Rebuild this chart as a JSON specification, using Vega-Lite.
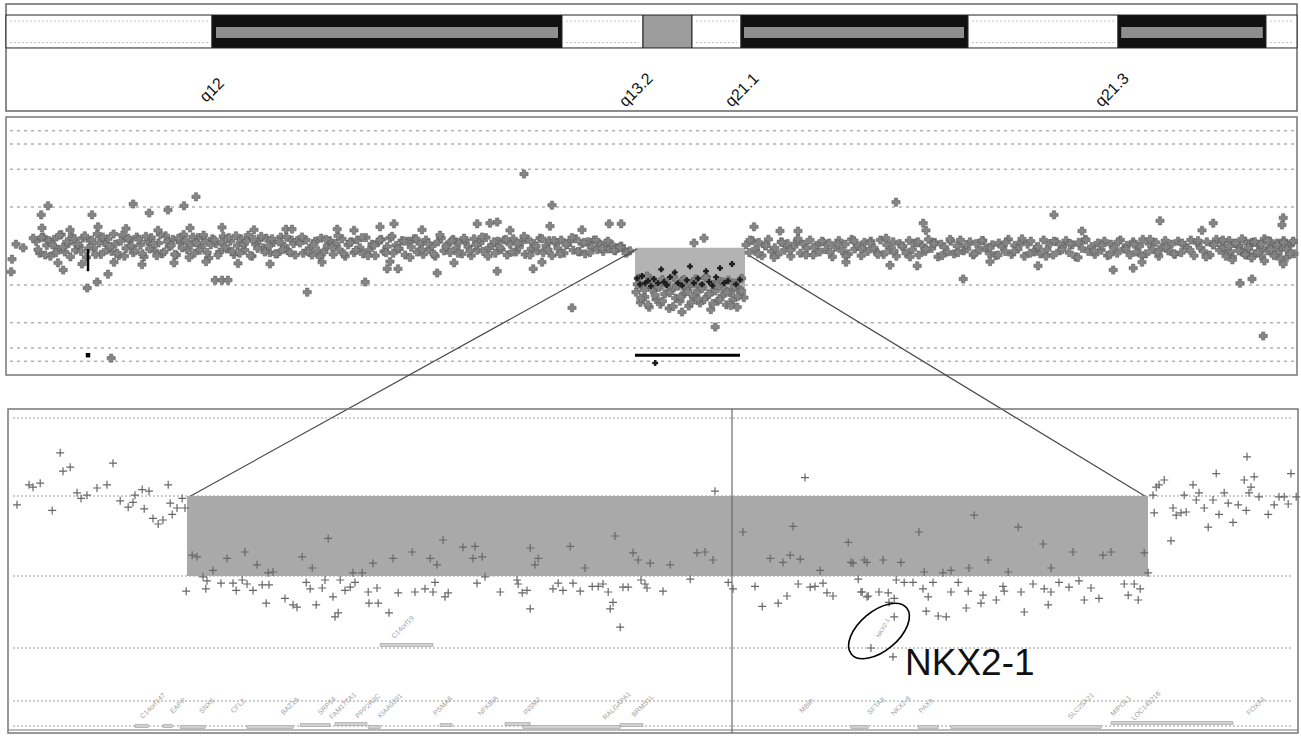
{
"$schema":"https://vega.github.io/schema/vega-lite/v6.json",
"width":1301,"height":740,"padding":0,"autosize":{"type":"none"},"background":"white",
"config":{"view":{"stroke":null},"font":"Liberation Sans"},
"datasets":{
"bands":[{"s":20,"e":25.15,"t":"w"},{"s":25.15,"e":33.9,"t":"b"},{"s":33.9,"e":35.925,"t":"w"},{"s":35.925,"e":37.15,"t":"g"},{"s":37.15,"e":38.375,"t":"w"},{"s":38.375,"e":44.05,"t":"b"},{"s":44.05,"e":47.8,"t":"w"},{"s":47.8,"e":51.5,"t":"b"},{"s":51.5,"e":52.275,"t":"w"}],
"stripes":[{"s":25.25,"e":33.8},{"s":38.45,"e":43.95},{"s":47.88,"e":51.42}],
"whites":[{"s":20.1,"e":25.05},{"s":34.0,"e":35.83},{"s":37.25,"e":38.28},{"s":44.15,"e":47.7},{"s":51.6,"e":52.2}],
"bandlabels":[{"p":25.15,"b":"q12"},{"p":35.75,"b":"q13.2"},{"p":38.4,"b":"q21.1"},{"p":47.65,"b":"q21.3"}],
"ovl":[{"v":1.92},{"v":1.7},{"v":1.28},{"v":0.65},{"v":-0.65},{"v":-1.28},{"v":-1.7},{"v":-1.92}],
"links":[{"p":35.775,"v":-0.05,"p2":24.525,"v2":-4.2},{"p":38.6,"v":-0.167,"p2":48.55,"v2":-4.2}],
"ovd":[{"p":35.78,"v":-0.54},{"p":35.85,"v":-0.64},{"p":35.9,"v":-0.5},{"p":35.98,"v":-0.62},{"p":36.05,"v":-0.58},{"p":36.12,"v":-0.67},{"p":36.2,"v":-0.55},{"p":36.3,"v":-0.62},{"p":36.38,"v":-0.39},{"p":36.45,"v":-0.6},{"p":36.52,"v":-0.65},{"p":36.6,"v":-0.52},{"p":36.72,"v":-0.44},{"p":36.8,"v":-0.62},{"p":36.9,"v":-0.66},{"p":37.02,"v":-0.57},{"p":37.1,"v":-0.34},{"p":37.2,"v":-0.62},{"p":37.3,"v":-0.54},{"p":37.4,"v":-0.64},{"p":37.5,"v":-0.42},{"p":37.58,"v":-0.6},{"p":37.66,"v":-0.66},{"p":37.75,"v":-0.52},{"p":37.85,"v":-0.37},{"p":37.95,"v":-0.62},{"p":38.05,"v":-0.58},{"p":38.15,"v":-0.3},{"p":38.25,"v":-0.64},{"p":38.35,"v":-0.56},{"p":36.23,"v":-1.95}],
"ovp":[
{"p":20.75,"v":0.08},{"p":20.84,"v":-0.12},{"p":20.93,"v":0.15},{"p":21.02,"v":0.01},{"p":21.11,"v":-0.17},{"p":21.2,"v":0.11},{"p":21.29,"v":-0.05},{"p":21.38,"v":0.19},{"p":21.47,"v":-0.1},{"p":21.56,"v":0.04},
{"p":21.65,"v":0.16},{"p":21.74,"v":-0.07},{"p":21.83,"v":0.0},{"p":21.92,"v":0.13},{"p":22.01,"v":-0.19},{"p":22.1,"v":0.09},{"p":22.19,"v":-0.03},{"p":22.28,"v":0.2},{"p":22.37,"v":-0.14},{"p":22.46,"v":0.06},
{"p":22.55,"v":0.12},{"p":22.64,"v":-0.09},{"p":22.73,"v":0.03},{"p":22.82,"v":-0.16},{"p":22.91,"v":0.18},{"p":23.0,"v":-0.04},{"p":23.09,"v":0.1},{"p":23.18,"v":-0.11},{"p":23.27,"v":0.15},{"p":23.36,"v":0.02},
{"p":23.45,"v":-0.18},{"p":23.54,"v":0.07},{"p":23.63,"v":0.14},{"p":23.72,"v":-0.08},{"p":23.81,"v":0.05},{"p":23.9,"v":-0.13},{"p":23.99,"v":0.17},{"p":24.08,"v":-0.01},{"p":24.17,"v":0.11},{"p":24.26,"v":-0.15},
{"p":24.35,"v":0.06},{"p":24.44,"v":0.19},{"p":24.53,"v":-0.06},{"p":24.62,"v":0.02},{"p":24.71,"v":-0.12},{"p":24.8,"v":0.14},{"p":24.89,"v":-0.02},{"p":24.98,"v":0.09},{"p":25.07,"v":-0.2},{"p":25.16,"v":0.12},
{"p":25.25,"v":0.04},{"p":25.34,"v":-0.1},{"p":25.43,"v":0.16},{"p":25.52,"v":-0.05},{"p":25.61,"v":0.08},{"p":25.7,"v":-0.14},{"p":25.79,"v":0.01},{"p":25.88,"v":0.12},{"p":25.97,"v":-0.07},{"p":26.06,"v":0.18},
{"p":26.15,"v":-0.17},{"p":26.24,"v":0.03},{"p":26.33,"v":0.1},{"p":26.42,"v":-0.03},{"p":26.51,"v":0.13},{"p":26.6,"v":-0.11},{"p":26.69,"v":0.06},{"p":26.78,"v":-0.13},{"p":26.87,"v":0.15},{"p":26.96,"v":0.0},
{"p":27.05,"v":-0.08},{"p":27.14,"v":0.1},{"p":27.23,"v":-0.15},
{"p":20.8,"v":-0.06},{"p":20.89,"v":0.14},{"p":20.98,"v":-0.15},{"p":21.07,"v":0.09},{"p":21.16,"v":0.02},{"p":21.25,"v":-0.11},{"p":21.34,"v":0.18},{"p":21.43,"v":-0.02},{"p":21.52,"v":0.07},{"p":21.61,"v":-0.18},
{"p":21.7,"v":0.12},{"p":21.79,"v":0.03},{"p":21.88,"v":-0.09},{"p":21.97,"v":0.17},{"p":22.06,"v":-0.04},{"p":22.15,"v":0.1},{"p":22.24,"v":-0.14},{"p":22.33,"v":0.05},{"p":22.42,"v":0.15},{"p":22.51,"v":-0.07},
{"p":22.6,"v":-0.01},{"p":22.69,"v":0.2},{"p":22.78,"v":-0.12},{"p":22.87,"v":0.08},{"p":22.96,"v":-0.17},{"p":23.05,"v":0.13},{"p":23.14,"v":0.0},{"p":23.23,"v":-0.08},{"p":23.32,"v":0.11},{"p":23.41,"v":-0.13},
{"p":23.5,"v":0.16},{"p":23.59,"v":-0.05},{"p":23.68,"v":0.04},{"p":23.77,"v":-0.16},{"p":23.86,"v":0.19},{"p":23.95,"v":-0.1},{"p":24.04,"v":0.07},{"p":24.13,"v":0.01},{"p":24.22,"v":-0.14},{"p":24.31,"v":0.13},
{"p":24.4,"v":-0.03},{"p":24.49,"v":0.09},{"p":24.58,"v":-0.19},{"p":24.67,"v":0.15},{"p":24.76,"v":0.05},{"p":24.85,"v":-0.07},{"p":24.94,"v":0.18},{"p":25.03,"v":-0.11},{"p":25.12,"v":0.02},{"p":25.21,"v":0.1},
{"p":25.3,"v":-0.15},{"p":25.39,"v":0.06},{"p":25.48,"v":-0.02},{"p":25.57,"v":0.14},{"p":25.66,"v":-0.09},{"p":25.75,"v":0.17},{"p":25.84,"v":-0.12},{"p":25.93,"v":0.03},{"p":26.02,"v":0.08},{"p":26.11,"v":-0.16},
{"p":26.2,"v":0.11},{"p":26.29,"v":-0.04},{"p":26.38,"v":0.16},{"p":26.47,"v":-0.1},{"p":26.56,"v":0.0},{"p":26.65,"v":0.12},{"p":26.74,"v":-0.13},{"p":26.83,"v":0.07},{"p":26.92,"v":-0.06},{"p":27.01,"v":0.15},
{"p":27.1,"v":-0.11},{"p":27.19,"v":0.04},{"p":27.28,"v":0.09},
{"p":27.35,"v":0.05},{"p":27.43,"v":-0.12},{"p":27.5,"v":0.1},{"p":27.58,"v":-0.04},{"p":27.65,"v":-0.15},{"p":27.73,"v":0.08},{"p":27.8,"v":-0.08},{"p":27.88,"v":0.13},{"p":27.95,"v":-0.1},{"p":28.03,"v":0.0},
{"p":28.1,"v":0.09},{"p":28.18,"v":-0.14},{"p":28.25,"v":0.04},{"p":28.33,"v":-0.06},{"p":28.4,"v":0.12},{"p":28.48,"v":-0.17},{"p":28.55,"v":0.02},{"p":28.63,"v":0.07},{"p":28.7,"v":-0.11},{"p":28.78,"v":0.1},
{"p":28.85,"v":-0.03},{"p":28.93,"v":-0.13},{"p":29.0,"v":0.14},{"p":29.08,"v":-0.07},{"p":29.15,"v":0.03},{"p":29.23,"v":-0.16},{"p":29.3,"v":0.06},{"p":29.38,"v":0.11},{"p":29.45,"v":-0.09},{"p":29.53,"v":-0.01},
{"p":29.6,"v":0.13},{"p":29.68,"v":-0.12},{"p":29.75,"v":0.01},{"p":29.83,"v":-0.05},{"p":29.9,"v":0.09},{"p":29.98,"v":-0.15},{"p":30.05,"v":0.08},{"p":30.13,"v":-0.02},{"p":30.2,"v":0.12},{"p":30.28,"v":-0.1},
{"p":30.35,"v":0.04},{"p":30.43,"v":-0.14},{"p":30.5,"v":0.1},{"p":30.58,"v":-0.06},{"p":30.65,"v":0.0},{"p":30.73,"v":-0.17},{"p":30.8,"v":0.07},{"p":30.88,"v":0.13},{"p":30.95,"v":-0.08},{"p":31.03,"v":0.02},
{"p":31.1,"v":-0.11},{"p":31.18,"v":0.11},{"p":31.25,"v":-0.04},{"p":31.33,"v":0.06},{"p":31.4,"v":-0.13},{"p":31.48,"v":0.09},{"p":31.55,"v":-0.01},{"p":31.63,"v":-0.16},{"p":31.7,"v":0.12},{"p":31.78,"v":-0.07},
{"p":31.85,"v":0.05},{"p":31.93,"v":-0.09},{"p":32.0,"v":0.14},{"p":32.08,"v":-0.03},{"p":32.15,"v":0.01},{"p":32.23,"v":-0.12},{"p":32.3,"v":0.08},{"p":32.38,"v":-0.06},{"p":32.45,"v":0.1},{"p":32.53,"v":-0.15},
{"p":32.6,"v":0.03},{"p":32.68,"v":0.12},{"p":32.75,"v":-0.1},{"p":32.83,"v":-0.02},{"p":32.9,"v":0.07},{"p":32.98,"v":-0.14},{"p":33.05,"v":0.11},{"p":33.13,"v":-0.05},{"p":33.2,"v":0.04},{"p":33.28,"v":-0.08},
{"p":33.35,"v":0.13},{"p":33.43,"v":-0.11},{"p":33.5,"v":0.0},{"p":33.58,"v":0.09},{"p":33.65,"v":-0.16},{"p":33.73,"v":0.06},{"p":33.8,"v":-0.04},{"p":33.88,"v":0.1},{"p":33.95,"v":-0.12},{"p":34.03,"v":0.02},
{"p":34.1,"v":0.08},{"p":34.18,"v":-0.07},{"p":34.25,"v":0.12},{"p":34.33,"v":-0.1},{"p":34.4,"v":0.04},{"p":34.48,"v":-0.13},{"p":34.55,"v":0.07},{"p":34.63,"v":-0.02},{"p":34.7,"v":0.1},{"p":34.78,"v":-0.06},
{"p":34.85,"v":0.03},{"p":34.93,"v":-0.09},{"p":35.0,"v":0.05},{"p":35.08,"v":-0.05},{"p":35.15,"v":0.02},{"p":35.23,"v":-0.08},{"p":35.3,"v":-0.03},{"p":35.38,"v":0.0},{"p":35.45,"v":-0.06},{"p":35.53,"v":-0.1},
{"p":35.6,"v":-0.08},
{"p":27.4,"v":0.15},{"p":27.55,"v":-0.09},{"p":27.7,"v":0.03},{"p":27.85,"v":-0.18},{"p":28.0,"v":0.11},{"p":28.15,"v":-0.02},{"p":28.3,"v":0.17},{"p":28.45,"v":-0.13},{"p":28.6,"v":0.06},{"p":28.75,"v":-0.07},
{"p":28.9,"v":0.14},{"p":29.05,"v":-0.16},{"p":29.2,"v":0.01},{"p":29.35,"v":0.1},{"p":29.5,"v":-0.11},{"p":29.65,"v":0.16},{"p":29.8,"v":-0.04},{"p":29.95,"v":0.08},{"p":30.1,"v":-0.19},{"p":30.25,"v":0.12},
{"p":30.4,"v":-0.06},{"p":30.55,"v":0.04},{"p":30.7,"v":-0.14},{"p":30.85,"v":0.18},{"p":31.0,"v":-0.01},{"p":31.15,"v":0.09},{"p":31.3,"v":-0.12},{"p":31.45,"v":0.13},{"p":31.6,"v":-0.08},{"p":31.75,"v":0.02},
{"p":31.9,"v":0.15},{"p":32.05,"v":-0.17},{"p":32.2,"v":0.07},{"p":32.35,"v":-0.03},{"p":32.5,"v":0.11},{"p":32.65,"v":-0.1},{"p":32.8,"v":0.05},{"p":32.95,"v":0.16},{"p":33.1,"v":-0.15},{"p":33.25,"v":0.0},
{"p":33.4,"v":0.12},{"p":33.55,"v":-0.06},{"p":33.7,"v":0.09},{"p":33.85,"v":-0.13},{"p":34.0,"v":0.03},{"p":34.15,"v":0.14},{"p":34.3,"v":-0.09},{"p":34.45,"v":0.06},{"p":34.6,"v":-0.11},{"p":34.75,"v":0.1},
{"p":34.9,"v":-0.04},{"p":35.05,"v":0.08},{"p":35.2,"v":-0.07},{"p":35.35,"v":-0.02},{"p":35.5,"v":-0.12},
{"p":38.5,"v":0.02},{"p":38.58,"v":-0.11},{"p":38.66,"v":0.09},{"p":38.74,"v":-0.05},{"p":38.82,"v":0.06},{"p":38.9,"v":-0.16},{"p":38.98,"v":0.0},{"p":39.06,"v":0.11},{"p":39.14,"v":-0.09},{"p":39.22,"v":-0.03},
{"p":39.3,"v":-0.14},{"p":39.38,"v":0.07},{"p":39.46,"v":-0.07},{"p":39.54,"v":0.04},{"p":39.62,"v":-0.17},{"p":39.7,"v":-0.01},{"p":39.78,"v":0.08},{"p":39.86,"v":-0.12},{"p":39.94,"v":0.03},{"p":40.02,"v":-0.04},
{"p":40.1,"v":0.1},{"p":40.18,"v":-0.15},{"p":40.26,"v":0.01},{"p":40.34,"v":-0.1},{"p":40.42,"v":0.07},{"p":40.5,"v":-0.06},{"p":40.58,"v":0.05},{"p":40.66,"v":-0.18},{"p":40.74,"v":-0.02},{"p":40.82,"v":0.09},
{"p":40.9,"v":-0.08},{"p":40.98,"v":0.03},{"p":41.06,"v":-0.13},{"p":41.14,"v":0.11},{"p":41.22,"v":-0.05},{"p":41.3,"v":0.0},{"p":41.38,"v":-0.16},{"p":41.46,"v":0.06},{"p":41.54,"v":-0.09},{"p":41.62,"v":0.08},
{"p":41.7,"v":-0.03},{"p":41.78,"v":-0.11},{"p":41.86,"v":0.1},{"p":41.94,"v":-0.14},{"p":42.02,"v":0.02},{"p":42.1,"v":-0.07},{"p":42.18,"v":0.07},{"p":42.26,"v":-0.17},{"p":42.34,"v":0.04},{"p":42.42,"v":-0.01},
{"p":42.5,"v":-0.12},{"p":42.58,"v":0.09},{"p":42.66,"v":-0.06},{"p":42.74,"v":0.05},{"p":42.82,"v":-0.15},{"p":42.9,"v":0.01},{"p":42.98,"v":-0.09},{"p":43.06,"v":0.11},{"p":43.14,"v":-0.04},{"p":43.22,"v":0.06},
{"p":43.3,"v":-0.18},{"p":43.38,"v":0.03},{"p":43.46,"v":-0.02},{"p":43.54,"v":-0.1},{"p":43.62,"v":0.08},{"p":43.7,"v":-0.13},{"p":43.78,"v":0.0},{"p":43.86,"v":0.1},{"p":43.94,"v":-0.08},{"p":44.02,"v":-0.05},
{"p":44.1,"v":0.07},{"p":44.18,"v":-0.15},{"p":44.26,"v":0.04},{"p":44.34,"v":-0.07},{"p":44.42,"v":0.09},{"p":44.5,"v":-0.03},{"p":44.58,"v":-0.12},{"p":44.66,"v":0.02},{"p":44.74,"v":-0.16},{"p":44.82,"v":0.05},
{"p":44.9,"v":-0.01},{"p":44.98,"v":-0.09},{"p":45.06,"v":0.11},{"p":45.14,"v":-0.14},{"p":45.22,"v":0.01},{"p":45.3,"v":-0.05},{"p":45.38,"v":0.06},{"p":45.46,"v":-0.17},{"p":45.54,"v":0.03},{"p":45.62,"v":0.08},
{"p":45.7,"v":-0.1},{"p":45.78,"v":-0.02},{"p":45.86,"v":-0.13},{"p":45.94,"v":0.1},{"p":46.02,"v":-0.06},{"p":46.1,"v":0.04},{"p":46.18,"v":-0.15},{"p":46.26,"v":0.07},{"p":46.34,"v":-0.08},{"p":46.42,"v":0.0},
{"p":46.5,"v":0.09},{"p":46.58,"v":-0.11},{"p":46.66,"v":0.02},{"p":46.74,"v":-0.18},{"p":46.82,"v":0.06},{"p":46.9,"v":-0.04},{"p":46.98,"v":0.11},{"p":47.06,"v":-0.09},{"p":47.14,"v":-0.01},{"p":47.22,"v":-0.14},
{"p":47.3,"v":0.05},{"p":47.38,"v":-0.07},{"p":47.46,"v":0.08},{"p":47.54,"v":-0.16},{"p":47.62,"v":0.03},{"p":47.7,"v":-0.03},{"p":47.78,"v":-0.12},{"p":47.86,"v":0.1},{"p":47.94,"v":-0.05},{"p":48.02,"v":0.01},
{"p":48.1,"v":-0.15},{"p":48.18,"v":0.07},{"p":48.26,"v":-0.1},{"p":48.34,"v":0.0},{"p":48.42,"v":0.11},{"p":48.5,"v":-0.13},{"p":48.58,"v":0.04},{"p":48.66,"v":-0.06},{"p":48.74,"v":0.06},{"p":48.82,"v":-0.17},
{"p":48.9,"v":-0.02},{"p":48.98,"v":0.09},{"p":49.06,"v":-0.08},{"p":49.14,"v":0.03},{"p":49.22,"v":-0.14},{"p":49.3,"v":0.08},{"p":49.38,"v":-0.11},{"p":49.46,"v":0.01},{"p":49.54,"v":-0.04},{"p":49.62,"v":0.1},
{"p":49.7,"v":-0.16},{"p":49.78,"v":0.05},{"p":49.86,"v":-0.03},{"p":49.94,"v":-0.09},{"p":50.02,"v":0.07},{"p":50.1,"v":-0.15},{"p":50.18,"v":0.02},{"p":50.26,"v":0.11},{"p":50.34,"v":-0.07},{"p":50.42,"v":-0.01},
{"p":50.5,"v":-0.12},{"p":50.58,"v":0.09},{"p":50.66,"v":-0.18},{"p":50.74,"v":0.04},{"p":50.82,"v":0.0},{"p":50.9,"v":-0.1},{"p":50.98,"v":0.08},{"p":51.06,"v":-0.05},{"p":51.14,"v":0.06},{"p":51.22,"v":-0.13},
{"p":51.3,"v":0.03},{"p":51.38,"v":-0.16},{"p":51.46,"v":0.12},{"p":51.54,"v":-0.08},{"p":51.62,"v":-0.02},{"p":51.7,"v":-0.14},{"p":51.78,"v":0.05},{"p":51.86,"v":-0.06},{"p":51.94,"v":0.09},{"p":52.02,"v":-0.19},
{"p":52.1,"v":0.01},{"p":52.18,"v":0.07},
{"p":38.6,"v":0.1},{"p":38.8,"v":-0.13},{"p":39.0,"v":0.01},{"p":39.2,"v":-0.19},{"p":39.4,"v":0.06},{"p":39.6,"v":-0.07},{"p":39.8,"v":0.12},{"p":40.0,"v":-0.15},{"p":40.2,"v":-0.02},{"p":40.4,"v":0.08},
{"p":40.6,"v":-0.1},{"p":40.8,"v":0.03},{"p":41.0,"v":-0.17},{"p":41.2,"v":0.09},{"p":41.4,"v":-0.04},{"p":41.6,"v":0.05},{"p":41.8,"v":-0.14},{"p":42.0,"v":0.13},{"p":42.2,"v":-0.08},{"p":42.4,"v":0.0},
{"p":42.6,"v":-0.18},{"p":42.8,"v":0.07},{"p":43.0,"v":-0.05},{"p":43.2,"v":0.04},{"p":43.4,"v":-0.16},{"p":43.6,"v":0.11},{"p":43.8,"v":-0.11},{"p":44.0,"v":0.02},{"p":44.2,"v":-0.13},{"p":44.4,"v":0.09},
{"p":44.6,"v":-0.03},{"p":44.8,"v":-0.15},{"p":45.0,"v":0.06},{"p":45.2,"v":-0.09},{"p":45.4,"v":0.12},{"p":45.6,"v":-0.12},{"p":45.8,"v":-0.01},{"p":46.0,"v":-0.17},{"p":46.2,"v":0.08},{"p":46.4,"v":-0.06},
{"p":46.6,"v":0.04},{"p":46.8,"v":-0.19},{"p":47.0,"v":0.1},{"p":47.2,"v":-0.08},{"p":47.4,"v":0.01},{"p":47.6,"v":-0.14},{"p":47.8,"v":0.07},{"p":48.0,"v":-0.05},{"p":48.2,"v":0.03},{"p":48.4,"v":-0.16},
{"p":48.6,"v":0.11},{"p":48.8,"v":-0.1},{"p":49.0,"v":-0.02},{"p":49.2,"v":-0.13},{"p":49.4,"v":0.05},{"p":49.6,"v":-0.07},{"p":49.8,"v":0.09},{"p":50.0,"v":-0.18},{"p":50.2,"v":0.02},{"p":50.4,"v":0.07},
{"p":50.6,"v":-0.09},{"p":50.8,"v":0.0},{"p":51.0,"v":-0.15},{"p":51.2,"v":0.06},{"p":51.4,"v":-0.04},{"p":51.6,"v":0.08},{"p":51.8,"v":-0.11},{"p":52.0,"v":0.03},{"p":52.2,"v":-0.13},
{"p":50.42,"v":0.1},{"p":50.5,"v":-0.17},{"p":50.58,"v":0.0},{"p":50.66,"v":-0.23},{"p":50.74,"v":0.05},{"p":50.82,"v":-0.08},{"p":50.9,"v":0.12},{"p":50.98,"v":-0.14},{"p":51.06,"v":-0.03},{"p":51.14,"v":-0.2},
{"p":51.22,"v":0.07},{"p":51.3,"v":-0.11},{"p":51.38,"v":0.03},{"p":51.46,"v":-0.25},{"p":51.54,"v":0.09},{"p":51.62,"v":-0.06},{"p":51.7,"v":-0.16},{"p":51.78,"v":0.02},{"p":51.86,"v":-0.21},{"p":51.94,"v":0.06},
{"p":52.02,"v":-0.05},{"p":52.1,"v":-0.13},{"p":52.18,"v":0.08},
{"p":20.9,"v":0.3},{"p":21.3,"v":-0.28},{"p":21.6,"v":0.27},{"p":21.9,"v":-0.3},{"p":22.3,"v":0.32},{"p":22.7,"v":-0.27},{"p":23.0,"v":0.29},{"p":23.4,"v":-0.31},{"p":23.8,"v":0.26},{"p":24.2,"v":-0.28},
{"p":24.6,"v":0.3},{"p":25.0,"v":-0.26},{"p":25.4,"v":0.31},{"p":25.8,"v":-0.29},{"p":26.2,"v":0.27},{"p":26.6,"v":-0.3},{"p":27.0,"v":0.28},{"p":27.9,"v":-0.27},{"p":28.7,"v":0.26},{"p":29.6,"v":-0.26},
{"p":30.4,"v":0.27},{"p":31.2,"v":-0.28},{"p":32.6,"v":0.26},{"p":33.4,"v":-0.27},{"p":34.4,"v":0.27},{"p":39.8,"v":0.25},{"p":41.0,"v":-0.27},{"p":43.0,"v":0.26},{"p":44.6,"v":-0.26},{"p":46.9,"v":0.25},
{"p":48.4,"v":-0.27},{"p":49.9,"v":0.26},
{"p":35.75,"v":-0.77},{"p":35.81,"v":-0.54},{"p":35.86,"v":-0.94},{"p":35.92,"v":-0.66},{"p":35.97,"v":-0.85},{"p":36.03,"v":-0.5},{"p":36.08,"v":-1.02},{"p":36.14,"v":-0.72},{"p":36.19,"v":-0.6},{"p":36.25,"v":-0.89},
{"p":36.3,"v":-0.68},{"p":36.36,"v":-0.97},{"p":36.41,"v":-0.56},{"p":36.47,"v":-0.8},{"p":36.52,"v":-0.63},{"p":36.58,"v":-1.04},{"p":36.63,"v":-0.74},{"p":36.69,"v":-0.52},{"p":36.74,"v":-0.87},{"p":36.8,"v":-0.65},
{"p":36.85,"v":-0.92},{"p":36.91,"v":-0.58},{"p":36.96,"v":-0.79},{"p":37.02,"v":-0.7},{"p":37.07,"v":-1.0},{"p":37.13,"v":-0.62},{"p":37.18,"v":-0.84},{"p":37.24,"v":-0.55},{"p":37.29,"v":-0.76},{"p":37.35,"v":-0.95},
{"p":37.4,"v":-0.67},{"p":37.46,"v":-0.89},{"p":37.51,"v":-0.52},{"p":37.57,"v":-0.81},{"p":37.62,"v":-1.06},{"p":37.68,"v":-0.64},{"p":37.73,"v":-0.75},{"p":37.79,"v":-0.92},{"p":37.84,"v":-0.59},{"p":37.9,"v":-0.83},
{"p":37.95,"v":-0.71},{"p":38.01,"v":-0.98},{"p":38.06,"v":-0.57},{"p":38.12,"v":-0.78},{"p":38.17,"v":-0.9},{"p":38.23,"v":-0.62},{"p":38.28,"v":-1.02},{"p":38.34,"v":-0.73},{"p":38.39,"v":-0.54},{"p":38.45,"v":-0.86},
{"p":35.78,"v":-0.64},{"p":35.87,"v":-0.87},{"p":35.96,"v":-0.73},{"p":36.05,"v":-0.98},{"p":36.14,"v":-0.58},{"p":36.23,"v":-0.82},{"p":36.32,"v":-0.69},{"p":36.41,"v":-0.92},{"p":36.5,"v":-0.61},{"p":36.59,"v":-0.78},
{"p":36.68,"v":-1.01},{"p":36.77,"v":-0.66},{"p":36.86,"v":-0.85},{"p":36.95,"v":-0.56},{"p":37.04,"v":-0.76},{"p":37.13,"v":-0.94},{"p":37.22,"v":-0.62},{"p":37.31,"v":-0.88},{"p":37.4,"v":-0.71},{"p":37.49,"v":-0.53},
{"p":37.58,"v":-0.8},{"p":37.67,"v":-0.96},{"p":37.76,"v":-0.65},{"p":37.85,"v":-0.89},{"p":37.94,"v":-0.6},{"p":38.03,"v":-0.77},{"p":38.12,"v":-0.99},{"p":38.21,"v":-0.68},{"p":38.3,"v":-0.84},{"p":38.39,"v":-0.75},
{"p":20.15,"v":-0.22},{"p":20.13,"v":-0.43},{"p":20.25,"v":0.03},{"p":20.43,"v":-0.03},{"p":20.68,"v":0.13},
{"p":21.05,"v":0.67},{"p":20.88,"v":0.52},{"p":23.18,"v":0.7},{"p":24.75,"v":0.82},{"p":24.45,"v":0.67},{"p":23.58,"v":0.55},{"p":24.05,"v":0.6},{"p":22.15,"v":0.52},
{"p":21.43,"v":-0.4},{"p":22.55,"v":-0.47},{"p":22.28,"v":-0.6},{"p":22.03,"v":-0.7},{"p":27.53,"v":-0.77},{"p":28.98,"v":-0.6},{"p":25.23,"v":-0.57},{"p":25.4,"v":-0.57},{"p":25.55,"v":-0.57},{"p":29.53,"v":-0.38},{"p":29.8,"v":-0.38},{"p":30.78,"v":-0.45},{"p":22.63,"v":-1.87},
{"p":29.7,"v":0.37},{"p":29.35,"v":0.32},{"p":28.28,"v":0.28},{"p":27.15,"v":0.28},{"p":32.95,"v":1.2},{"p":33.65,"v":0.68},{"p":32.28,"v":-0.42},{"p":33.18,"v":-0.38},{"p":34.15,"v":-1.03},{"p":31.78,"v":0.37},{"p":32.1,"v":0.38},{"p":32.28,"v":0.4},{"p":33.6,"v":0.33},{"p":35.08,"v":0.37},{"p":35.38,"v":0.37},
{"p":37.45,"v":0.13},{"p":37.2,"v":0.05},{"p":36.9,"v":-1.1},{"p":37.73,"v":-1.35},{"p":42.25,"v":0.73},{"p":46.2,"v":0.52},{"p":42.93,"v":0.38},{"p":48.85,"v":0.42},{"p":50.18,"v":0.38},{"p":51.93,"v":0.47},{"p":51.9,"v":0.35},
{"p":43.93,"v":-0.55},{"p":50.85,"v":-0.62},{"p":51.15,"v":-0.55},{"p":51.43,"v":-1.5},{"p":45.8,"v":-0.33},{"p":47.68,"v":-0.4},{"p":48.18,"v":-0.37},{"p":51.93,"v":-0.3},{"p":42.1,"v":-0.32},{"p":42.78,"v":-0.33},{"p":38.7,"v":0.32},{"p":39.35,"v":0.25}
],
"zl":[{"v":0.975},{"v":0},{"v":-1},{"v":-1.9},{"v":-2.5625},{"v":-2.875}],
"genes":[{"p":35.595,"p2":35.628,"v1":-2.856,"v2":-2.894},{"p":35.665,"p2":35.688,"v1":-2.856,"v2":-2.894},{"p":35.708,"p2":35.77,"v1":-2.869,"v2":-2.906},{"p":35.875,"p2":35.99,"v1":-2.869,"v2":-2.906},{"p":36.008,"p2":36.083,"v1":-2.844,"v2":-2.881},{"p":36.095,"p2":36.175,"v1":-2.831,"v2":-2.869},{"p":36.178,"p2":36.208,"v1":-2.869,"v2":-2.906},{"p":36.358,"p2":36.388,"v1":-2.844,"v2":-2.881},{"p":36.52,"p2":36.583,"v1":-2.831,"v2":-2.869},{"p":36.565,"p2":36.808,"v1":-2.869,"v2":-2.906},{"p":36.808,"p2":36.865,"v1":-2.844,"v2":-2.881},{"p":37.385,"p2":37.428,"v1":-2.869,"v2":-2.906},{"p":37.553,"p2":37.603,"v1":-2.869,"v2":-2.906},{"p":37.635,"p2":38.01,"v1":-2.869,"v2":-2.906},{"p":38.035,"p2":38.34,"v1":-2.819,"v2":-2.856},{"p":36.208,"p2":36.34,"v1":-1.844,"v2":-1.881}],
"glab":[{"p":35.64,"g":"C14orf147"},{"p":35.703,"g":"EAPP"},{"p":35.775,"g":"SNX6"},{"p":35.853,"g":"CFL2"},{"p":35.983,"g":"BAZ1A"},{"p":36.075,"g":"SRP54"},{"p":36.115,"g":"FAM177A1"},{"p":36.178,"g":"PPP2R3C"},{"p":36.233,"g":"KIAA0391"},{"p":36.365,"g":"PSMA6"},{"p":36.478,"g":"NFKBIA"},{"p":36.588,"g":"INSM2"},{"p":36.8,"g":"RALGAPA1"},{"p":36.865,"g":"BRMS1L"},{"p":37.275,"g":"MBIP"},{"p":37.448,"g":"SFTA3"},{"p":37.51,"g":"NKX2-8"},{"p":37.573,"g":"PAX9"},{"p":37.96,"g":"SLC25A21"},{"p":38.06,"g":"MIPOL1"},{"p":38.123,"g":"LOC145216"},{"p":38.398,"g":"FOXA1"}],
"zp":[
{"p":35.3,"v":-0.11},{"p":35.33,"v":0.14},{"p":35.34,"v":0.11},{"p":35.358,"v":0.16},{"p":35.388,"v":-0.18},{"p":35.408,"v":0.54},{"p":35.415,"v":0.31},{"p":35.433,"v":0.36},{"p":35.45,"v":0.04},{"p":35.46,"v":-0.03},{"p":35.475,"v":0.01},{"p":35.5,"v":0.1},{"p":35.525,"v":0.14},{"p":35.54,"v":0.41},{"p":35.558,"v":-0.06},{"p":35.578,"v":-0.14},{"p":35.59,"v":-0.08},{"p":35.595,"v":0.01},{"p":35.613,"v":0.08},{"p":35.618,"v":-0.16},{"p":35.63,"v":0.06},{"p":35.64,"v":-0.28},{"p":35.653,"v":-0.35},{"p":35.665,"v":-0.3},{"p":35.678,"v":0.14},{"p":35.683,"v":-0.09},{"p":35.688,"v":-0.23},{"p":35.7,"v":-0.15},{"p":35.713,"v":-0.03},{"p":35.72,"v":-0.15},
{"p":35.738,"v":-0.74},{"p":35.75,"v":-0.76},{"p":35.79,"v":-0.93},{"p":35.825,"v":-0.78},{"p":35.87,"v":-0.7},{"p":35.9,"v":-0.86},{"p":35.928,"v":-0.96},{"p":35.94,"v":-0.95},{"p":36.013,"v":-0.76},{"p":36.038,"v":-0.9},{"p":36.078,"v":-0.53},{"p":36.14,"v":-0.96},{"p":36.163,"v":-0.96},{"p":36.19,"v":-0.84},{"p":36.24,"v":-0.78},{"p":36.288,"v":-0.7},{"p":36.333,"v":-0.78},{"p":36.365,"v":-0.55},
{"p":35.723,"v":-1.19},{"p":35.765,"v":-1.01},{"p":35.775,"v":-1.06},{"p":35.772,"v":-1.16},{"p":35.81,"v":-1.09},{"p":35.84,"v":-1.09},{"p":35.848,"v":-1.18},{"p":35.863,"v":-1.05},{"p":35.875,"v":-1.1},{"p":35.89,"v":-1.18},{"p":35.913,"v":-1.11},{"p":35.923,"v":-1.34},{"p":35.93,"v":-1.11},{"p":35.97,"v":-1.28},{"p":35.99,"v":-1.36},{"p":36.0,"v":-1.39},{"p":36.023,"v":-1.08},{"p":36.033,"v":-1.16},{"p":36.048,"v":-1.36},{"p":36.063,"v":-1.15},{"p":36.07,"v":-1.05},{"p":36.09,"v":-1.26},{"p":36.095,"v":-1.51},{"p":36.103,"v":-1.46},{"p":36.108,"v":-1.05},{"p":36.12,"v":-1.18},{"p":36.133,"v":-1.14},{"p":36.145,"v":-1.08},{"p":36.178,"v":-1.2},{"p":36.18,"v":-1.34},{"p":36.2,"v":-1.15},{"p":36.203,"v":-1.34},{"p":36.23,"v":-1.46},{"p":36.253,"v":-1.21},{"p":36.295,"v":-1.2},{"p":36.32,"v":-1.16},{"p":36.34,"v":-1.2},{"p":36.345,"v":-1.08},{"p":36.37,"v":-1.26},{"p":36.378,"v":-1.21},
{"p":36.415,"v":-0.64},{"p":36.445,"v":-0.63},{"p":36.44,"v":-0.78},{"p":36.463,"v":-0.76},{"p":36.35,"v":-0.86},{"p":36.583,"v":-0.65},{"p":36.595,"v":-0.86},{"p":36.603,"v":-0.78},{"p":36.683,"v":-0.63},{"p":36.72,"v":-0.9},{"p":36.795,"v":-0.5},{"p":36.84,"v":-0.71},{"p":36.853,"v":-0.8},{"p":36.883,"v":-0.84},{"p":36.933,"v":-0.86},{"p":37.0,"v":-0.71},{"p":37.02,"v":-0.7},{"p":37.045,"v":0.06},{"p":37.04,"v":-0.8},{"p":37.115,"v":-0.45},{"p":37.183,"v":-0.78},{"p":37.215,"v":-0.83},{"p":37.24,"v":-0.38},{"p":37.233,"v":-0.74},{"p":37.258,"v":-0.79},{"p":37.27,"v":0.23},{"p":37.378,"v":-0.58},{"p":37.39,"v":-0.84},{"p":37.425,"v":-0.83},{"p":37.308,"v":-0.93},
{"p":36.45,"v":-1.09},{"p":36.47,"v":-1.01},{"p":36.508,"v":-1.2},{"p":36.55,"v":-1.05},{"p":36.553,"v":-1.1},{"p":36.563,"v":-1.21},{"p":36.575,"v":-1.18},{"p":36.583,"v":-1.41},{"p":36.64,"v":-1.16},{"p":36.653,"v":-1.09},{"p":36.665,"v":-1.18},{"p":36.69,"v":-1.09},{"p":36.708,"v":-1.19},{"p":36.738,"v":-1.13},{"p":36.753,"v":-1.13},{"p":36.765,"v":-1.1},{"p":36.778,"v":-1.2},{"p":36.79,"v":-1.33},{"p":36.783,"v":-1.41},{"p":36.808,"v":-1.64},{"p":36.815,"v":-1.14},{"p":36.828,"v":-1.14},{"p":36.86,"v":-1.05},{"p":36.87,"v":-1.1},{"p":36.875,"v":-1.15},{"p":36.915,"v":-1.19},{"p":36.983,"v":-1.04},{"p":37.078,"v":-1.08},{"p":37.09,"v":-1.16},{"p":37.145,"v":-1.13},{"p":37.163,"v":-1.38},{"p":37.203,"v":-1.34},{"p":37.225,"v":-1.25},{"p":37.253,"v":-1.1},{"p":37.283,"v":-1.14},{"p":37.295,"v":-1.13},{"p":37.315,"v":-1.09},{"p":37.325,"v":-1.21},{"p":37.34,"v":-1.25},{"p":37.403,"v":-1.04},{"p":37.413,"v":-1.2},{"p":37.425,"v":-1.26},
{"p":37.385,"v":-0.83},{"p":37.418,"v":-0.8},{"p":37.465,"v":-0.8},{"p":37.51,"v":-0.83},{"p":37.555,"v":-0.45},{"p":37.568,"v":-0.95},{"p":37.615,"v":-0.96},{"p":37.635,"v":-0.93},{"p":37.68,"v":-0.9},{"p":37.693,"v":-0.24},{"p":37.728,"v":-0.8},{"p":37.778,"v":-0.95},{"p":37.803,"v":-0.39},{"p":37.865,"v":-0.6},{"p":37.885,"v":-0.9},{"p":37.94,"v":-0.7},{"p":38.015,"v":-0.74},{"p":38.035,"v":-0.7},{"p":38.118,"v":-0.71},{"p":38.128,"v":-0.96},
{"p":37.41,"v":-1.2},{"p":37.428,"v":-1.25},{"p":37.455,"v":-1.2},{"p":37.478,"v":-1.21},{"p":37.493,"v":-1.28},{"p":37.498,"v":-1.05},{"p":37.518,"v":-1.08},{"p":37.54,"v":-1.08},{"p":37.565,"v":-1.16},{"p":37.578,"v":-1.26},{"p":37.573,"v":-1.44},{"p":37.59,"v":-1.08},{"p":37.603,"v":-1.5},{"p":37.623,"v":-1.51},{"p":37.635,"v":-1.2},{"p":37.653,"v":-1.08},{"p":37.673,"v":-1.4},{"p":37.678,"v":-1.19},{"p":37.71,"v":-1.34},{"p":37.715,"v":-1.24},{"p":37.748,"v":-1.3},{"p":37.765,"v":-1.13},{"p":37.768,"v":-1.19},{"p":37.81,"v":-1.2},{"p":37.818,"v":-1.45},{"p":37.84,"v":-1.1},{"p":37.868,"v":-1.16},{"p":37.885,"v":-1.2},{"p":37.878,"v":-1.36},{"p":37.905,"v":-1.08},{"p":37.93,"v":-1.14},{"p":37.955,"v":-1.06},{"p":37.968,"v":-1.3},{"p":37.985,"v":-1.15},{"p":38.005,"v":-1.28},{"p":38.068,"v":-1.1},{"p":38.078,"v":-1.24},{"p":38.093,"v":-1.1},{"p":38.103,"v":-1.3},{"p":38.108,"v":-1.16},
{"p":37.493,"v":-1.51},{"p":37.435,"v":-1.9},{"p":37.49,"v":-2.01},{"p":37.48,"v":-1.33},
{"p":38.14,"v":0.01},{"p":38.148,"v":0.11},{"p":38.155,"v":0.14},{"p":38.168,"v":0.2},{"p":38.143,"v":-0.21},{"p":38.185,"v":-0.56},{"p":38.19,"v":-0.15},{"p":38.198,"v":-0.24},{"p":38.21,"v":-0.21},{"p":38.218,"v":0.01},{"p":38.223,"v":-0.2},{"p":38.24,"v":0.14},{"p":38.248,"v":-0.05},{"p":38.255,"v":0.04},{"p":38.268,"v":-0.15},{"p":38.278,"v":-0.39},{"p":38.29,"v":-0.05},{"p":38.298,"v":0.28},{"p":38.305,"v":-0.23},{"p":38.318,"v":0.04},{"p":38.328,"v":-0.09},{"p":38.34,"v":-0.33},{"p":38.353,"v":-0.11},{"p":38.368,"v":0.2},{"p":38.373,"v":-0.18},{"p":38.375,"v":0.49},{"p":38.38,"v":0.04},{"p":38.385,"v":0.11},{"p":38.393,"v":0.24},{"p":38.405,"v":-0.01},{"p":38.428,"v":-0.23},{"p":38.443,"v":-0.11},{"p":38.455,"v":-0.01},{"p":38.468,"v":-0.01},{"p":38.478,"v":-0.1},{"p":38.485,"v":0.28},{"p":38.498,"v":-0.01}
]
},
"resolve":{"scale":{"x":"independent","y":"independent"}},
"layer":[
{
"layer":[
{"data":{"values":[{}]},"mark":{"type":"rect","filled":false,"color":"#666666","strokeWidth":1.5},
 "encoding":{"x":{"datum":20,"type":"quantitative","scale":{"domain":[20,52.275],"range":[6,1297],"zero":false,"nice":false},"axis":null},"x2":{"datum":52.275},
 "y":{"datum":0,"type":"quantitative","scale":{"domain":[0,1],"range":[111,4],"zero":false,"nice":false},"axis":null},"y2":{"datum":1}}},
{"data":{"name":"bands"},"mark":{"type":"rect","stroke":"#222222","strokeWidth":1},
 "encoding":{"x":{"field":"s","type":"quantitative","scale":{"domain":[20,52.275],"range":[6,1297],"zero":false,"nice":false},"axis":null},"x2":{"field":"e"},
 "y":{"datum":0.589,"type":"quantitative","scale":{"domain":[0,1],"range":[111,4],"zero":false,"nice":false},"axis":null},"y2":{"datum":0.897},
 "fill":{"field":"t","type":"nominal","scale":{"domain":["w","b","g"],"range":["#ffffff","#111111","#9c9c9c"]},"legend":null}}},
{"data":{"name":"stripes"},"mark":{"type":"rect","fill":"#8e8e8e"},
 "encoding":{"x":{"field":"s","type":"quantitative","scale":{"domain":[20,52.275],"range":[6,1297],"zero":false,"nice":false},"axis":null},"x2":{"field":"e"},
 "y":{"datum":0.682,"type":"quantitative","scale":{"domain":[0,1],"range":[111,4],"zero":false,"nice":false},"axis":null},"y2":{"datum":0.785}}},
{"data":{"name":"whites"},"mark":{"type":"rule","color":"#c4c4c4","strokeDash":[2,2],"strokeWidth":1},
 "encoding":{"x":{"field":"s","type":"quantitative","scale":{"domain":[20,52.275],"range":[6,1297],"zero":false,"nice":false},"axis":null},"x2":{"field":"e"},
 "y":{"datum":0.84,"type":"quantitative","scale":{"domain":[0,1],"range":[111,4],"zero":false,"nice":false},"axis":null}}},
{"data":{"name":"whites"},"mark":{"type":"rule","color":"#c4c4c4","strokeDash":[2,2],"strokeWidth":1},
 "encoding":{"x":{"field":"s","type":"quantitative","scale":{"domain":[20,52.275],"range":[6,1297],"zero":false,"nice":false},"axis":null},"x2":{"field":"e"},
 "y":{"datum":0.64,"type":"quantitative","scale":{"domain":[0,1],"range":[111,4],"zero":false,"nice":false},"axis":null}}},
{"data":{"name":"bandlabels"},"mark":{"type":"text","angle":315,"fontSize":16,"color":"#111111","align":"center","baseline":"middle"},
 "encoding":{"x":{"field":"p","type":"quantitative","scale":{"domain":[20,52.275],"range":[6,1297],"zero":false,"nice":false},"axis":null},
 "y":{"datum":0.196,"type":"quantitative","scale":{"domain":[0,1],"range":[111,4],"zero":false,"nice":false},"axis":null},"text":{"field":"b"}}}
]
},
{
"layer":[
{"data":{"values":[{}]},"mark":{"type":"rect","filled":false,"color":"#777777","strokeWidth":1.5},
 "encoding":{"x":{"datum":20,"type":"quantitative","scale":{"domain":[20,52.275],"range":[6,1297],"zero":false,"nice":false},"axis":null},"x2":{"datum":52.275},
 "y":{"datum":-2.15,"type":"quantitative","scale":{"domain":[-2.15,2.15],"range":[375,117],"zero":false,"nice":false},"axis":null},"y2":{"datum":2.15}}},
{"data":{"name":"ovl"},"mark":{"type":"rule","color":"#8a8a8a","strokeDash":[3,4],"strokeWidth":1},
 "encoding":{"x":{"datum":20.1,"type":"quantitative","scale":{"domain":[20,52.275],"range":[6,1297],"zero":false,"nice":false},"axis":null},"x2":{"datum":52.2},
 "y":{"field":"v","type":"quantitative","scale":{"domain":[-2.15,2.15],"range":[375,117],"zero":false,"nice":false},"axis":null}}},
{"data":{"values":[{}]},"mark":{"type":"rect","fill":"#b3b3b3"},
 "encoding":{"x":{"datum":35.725,"type":"quantitative","scale":{"domain":[20,52.275],"range":[6,1297],"zero":false,"nice":false},"axis":null},"x2":{"datum":38.475},
 "y":{"datum":-0.03,"type":"quantitative","scale":{"domain":[-2.15,2.15],"range":[375,117],"zero":false,"nice":false},"axis":null},"y2":{"datum":-0.75}}},
{"data":{"name":"ovp"},"mark":{"type":"point","shape":"cross","filled":true,"fill":"#858585","stroke":"#555555","strokeWidth":0.5,"size":68,"opacity":1},
 "encoding":{"x":{"field":"p","type":"quantitative","scale":{"domain":[20,52.275],"range":[6,1297],"zero":false,"nice":false},"axis":null},
 "y":{"field":"v","type":"quantitative","scale":{"domain":[-2.15,2.15],"range":[375,117],"zero":false,"nice":false},"axis":null}}},
{"data":{"name":"ovd"},"mark":{"type":"point","shape":"cross","filled":true,"color":"#1c1c1c","size":34,"opacity":1},
 "encoding":{"x":{"field":"p","type":"quantitative","scale":{"domain":[20,52.275],"range":[6,1297],"zero":false,"nice":false},"axis":null},
 "y":{"field":"v","type":"quantitative","scale":{"domain":[-2.15,2.15],"range":[375,117],"zero":false,"nice":false},"axis":null}}},
{"data":{"values":[{}]},"mark":{"type":"rule","color":"#000000","strokeWidth":2.5},
 "encoding":{"x":{"datum":22.05,"type":"quantitative","scale":{"domain":[20,52.275],"range":[6,1297],"zero":false,"nice":false},"axis":null},
 "y":{"datum":-0.05,"type":"quantitative","scale":{"domain":[-2.15,2.15],"range":[375,117],"zero":false,"nice":false},"axis":null},"y2":{"datum":-0.42}}},
{"data":{"values":[{}]},"mark":{"type":"point","shape":"square","filled":true,"color":"#000000","size":20,"opacity":1},
 "encoding":{"x":{"datum":22.05,"type":"quantitative","scale":{"domain":[20,52.275],"range":[6,1297],"zero":false,"nice":false},"axis":null},
 "y":{"datum":-1.82,"type":"quantitative","scale":{"domain":[-2.15,2.15],"range":[375,117],"zero":false,"nice":false},"axis":null}}},
{"data":{"values":[{}]},"mark":{"type":"rule","color":"#000000","strokeWidth":3},
 "encoding":{"x":{"datum":35.725,"type":"quantitative","scale":{"domain":[20,52.275],"range":[6,1297],"zero":false,"nice":false},"axis":null},"x2":{"datum":38.35},
 "y":{"datum":-1.82,"type":"quantitative","scale":{"domain":[-2.15,2.15],"range":[375,117],"zero":false,"nice":false},"axis":null}}},
{"data":{"name":"links"},"mark":{"type":"rule","color":"#4a4a4a","strokeWidth":1.2},
 "encoding":{"x":{"field":"p","type":"quantitative","scale":{"domain":[20,52.275],"range":[6,1297],"zero":false,"nice":false},"axis":null},"x2":{"field":"p2"},
 "y":{"field":"v","type":"quantitative","scale":{"domain":[-2.15,2.15],"range":[375,117],"zero":false,"nice":false},"axis":null},"y2":{"field":"v2"}}}
]
},
{
"layer":[
{"data":{"values":[{}]},"mark":{"type":"rect","filled":false,"color":"#777777","strokeWidth":1.5},
 "encoding":{"x":{"datum":35.2775,"type":"quantitative","scale":{"domain":[35.2775,38.5025],"range":[8,1298],"zero":false,"nice":false},"axis":null},"x2":{"datum":38.5025},
 "y":{"datum":-2.9625,"type":"quantitative","scale":{"domain":[-2.9625,1.0875],"range":[733,409],"zero":false,"nice":false},"axis":null},"y2":{"datum":1.0875}}},
{"data":{"values":[{}]},"mark":{"type":"rule","color":"#777777","strokeWidth":1},
 "encoding":{"x":{"datum":35.2775,"type":"quantitative","scale":{"domain":[35.2775,38.5025],"range":[8,1298],"zero":false,"nice":false},"axis":null},"x2":{"datum":38.5025},
 "y":{"datum":-2.925,"type":"quantitative","scale":{"domain":[-2.9625,1.0875],"range":[733,409],"zero":false,"nice":false},"axis":null}}},
{"data":{"name":"zl"},"mark":{"type":"rule","color":"#9a9a9a","strokeDash":[2,2],"strokeWidth":1},
 "encoding":{"x":{"datum":35.29,"type":"quantitative","scale":{"domain":[35.2775,38.5025],"range":[8,1298],"zero":false,"nice":false},"axis":null},"x2":{"datum":38.49},
 "y":{"field":"v","type":"quantitative","scale":{"domain":[-2.9625,1.0875],"range":[733,409],"zero":false,"nice":false},"axis":null}}},
{"data":{"values":[{}]},"mark":{"type":"rect","fill":"#a9a9a9"},
 "encoding":{"x":{"datum":35.725,"type":"quantitative","scale":{"domain":[35.2775,38.5025],"range":[8,1298],"zero":false,"nice":false},"axis":null},"x2":{"datum":38.1275},
 "y":{"datum":0,"type":"quantitative","scale":{"domain":[-2.9625,1.0875],"range":[733,409],"zero":false,"nice":false},"axis":null},"y2":{"datum":-1}}},
{"data":{"values":[{}]},"mark":{"type":"rule","color":"#6a6a6a","strokeWidth":1.2},
 "encoding":{"x":{"datum":37.0875,"type":"quantitative","scale":{"domain":[35.2775,38.5025],"range":[8,1298],"zero":false,"nice":false},"axis":null},
 "y":{"datum":-2.9625,"type":"quantitative","scale":{"domain":[-2.9625,1.0875],"range":[733,409],"zero":false,"nice":false},"axis":null},"y2":{"datum":1.0875}}},
{"data":{"name":"genes"},"mark":{"type":"rect","fill":"#d2d2d2","stroke":"#9a9a9a","strokeWidth":0.6},
 "encoding":{"x":{"field":"p","type":"quantitative","scale":{"domain":[35.2775,38.5025],"range":[8,1298],"zero":false,"nice":false},"axis":null},"x2":{"field":"p2"},
 "y":{"field":"v1","type":"quantitative","scale":{"domain":[-2.9625,1.0875],"range":[733,409],"zero":false,"nice":false},"axis":null},"y2":{"field":"v2"}}},
{"data":{"name":"glab"},"mark":{"type":"text","angle":315,"fontSize":7,"color":"#a0a0a0","align":"center","baseline":"middle"},
 "encoding":{"x":{"field":"p","type":"quantitative","scale":{"domain":[35.2775,38.5025],"range":[8,1298],"zero":false,"nice":false},"axis":null},
 "y":{"datum":-2.625,"type":"quantitative","scale":{"domain":[-2.9625,1.0875],"range":[733,409],"zero":false,"nice":false},"axis":null},"text":{"field":"g"}}},
{"data":{"values":[{"g":"C14orf19"}]},"mark":{"type":"text","angle":315,"fontSize":7,"color":"#a0a0a0","align":"center","baseline":"middle"},
 "encoding":{"x":{"datum":36.265,"type":"quantitative","scale":{"domain":[35.2775,38.5025],"range":[8,1298],"zero":false,"nice":false},"axis":null},
 "y":{"datum":-1.64,"type":"quantitative","scale":{"domain":[-2.9625,1.0875],"range":[733,409],"zero":false,"nice":false},"axis":null},"text":{"field":"g"}}},
{"data":{"name":"zp"},"mark":{"type":"point","shape":"M-1,0L1,0M0,-1L0,1","filled":false,"stroke":"#686868","strokeWidth":1.2,"size":64,"opacity":1},
 "encoding":{"x":{"field":"p","type":"quantitative","scale":{"domain":[35.2775,38.5025],"range":[8,1298],"zero":false,"nice":false},"axis":null},
 "y":{"field":"v","type":"quantitative","scale":{"domain":[-2.9625,1.0875],"range":[733,409],"zero":false,"nice":false},"axis":null}}},
{"data":{"values":[{"g":"NKX2-1"}]},"mark":{"type":"text","angle":300,"fontSize":6,"color":"#999999","align":"center","baseline":"middle"},
 "encoding":{"x":{"datum":37.465,"type":"quantitative","scale":{"domain":[35.2775,38.5025],"range":[8,1298],"zero":false,"nice":false},"axis":null},
 "y":{"datum":-1.65,"type":"quantitative","scale":{"domain":[-2.9625,1.0875],"range":[733,409],"zero":false,"nice":false},"axis":null},"text":{"field":"g"}}},
{"data":{"values":[{}]},"mark":{"type":"point","shape":"M-1,0A1,0.55,0,1,1,1,0A1,0.55,0,1,1,-1,0Z","filled":false,"stroke":"#000000","strokeWidth":1.6,"size":5184,"angle":320,"opacity":1},
 "encoding":{"x":{"datum":37.455,"type":"quantitative","scale":{"domain":[35.2775,38.5025],"range":[8,1298],"zero":false,"nice":false},"axis":null},
 "y":{"datum":-1.6875,"type":"quantitative","scale":{"domain":[-2.9625,1.0875],"range":[733,409],"zero":false,"nice":false},"axis":null}}},
{"data":{"values":[{"g":"NKX2-1"}]},"mark":{"type":"text","fontSize":37,"color":"#111111","align":"left","baseline":"alphabetic","font":"Liberation Sans"},
 "encoding":{"x":{"datum":37.52,"type":"quantitative","scale":{"domain":[35.2775,38.5025],"range":[8,1298],"zero":false,"nice":false},"axis":null},
 "y":{"datum":-2.2375,"type":"quantitative","scale":{"domain":[-2.9625,1.0875],"range":[733,409],"zero":false,"nice":false},"axis":null},"text":{"field":"g"}}}
]
}
]
}
